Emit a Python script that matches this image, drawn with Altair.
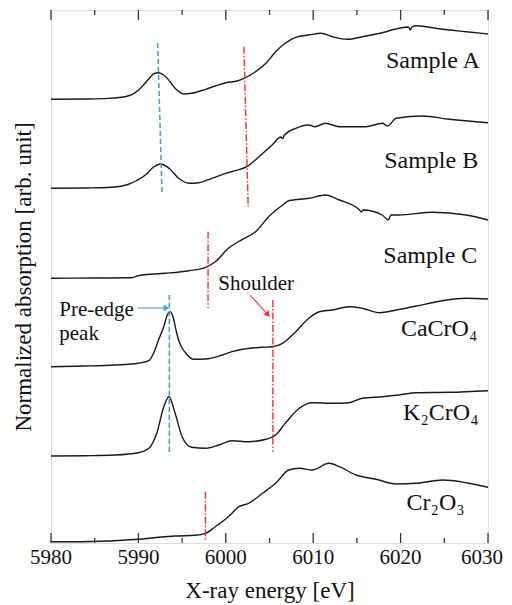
import altair as alt
import pandas as pd

# ---------------- data ----------------
sampleA_E = [5980.0, 5984.0, 5986.5, 5987.8, 5988.8, 5989.6, 5990.4, 5991.4, 5991.8, 5992.3, 5992.8,
             5993.3, 5994.2, 5995.2, 5996.1, 5997.7, 5998.8, 6000.0, 6001.3, 6002.1, 6003.4,
             6004.6, 6005.7, 6006.8, 6008.0, 6009.5, 6010.9, 6012.2, 6013.9, 6015.6, 6017.9,
             6019.8, 6020.9, 6021.1, 6021.3, 6021.8, 6024.8, 6027.5, 6030.0]
sampleA_v = [443.7, 444.0, 444.6, 445.5, 447.0, 450.2, 456.3, 466.3, 469.5, 470.3, 468.5,
             464.7, 454.7, 449.0, 449.7, 453.7, 457.0, 460.3, 462.0, 464.7, 471.3,
             479.7, 491.3, 499.7, 505.7, 508.0, 509.7, 506.3, 503.7, 506.3, 510.3,
             514.7, 516.0, 513.0, 516.0, 517.3, 513.7, 511.3, 509.0]

sampleB_E = [5980.0, 5984.0, 5986.5, 5987.8, 5988.8, 5989.8, 5990.8, 5991.7, 5992.6, 5993.5,
             5994.6, 5995.8, 5996.9, 5998.4, 6000.0, 6001.1, 6002.4, 6003.8, 6005.3, 6006.3,
             6006.5, 6006.7, 6008.0, 6009.5, 6010.2, 6011.4, 6013.0, 6016.0, 6017.9, 6018.5,
             6019.5, 6022.5, 6025.6, 6030.0]
sampleB_v = [354.7, 355.0, 355.5, 356.5, 358.5, 362.5, 368.0, 375.7, 379.0, 374.7,
             364.7, 359.7, 360.3, 364.7, 369.7, 372.3, 376.3, 386.3, 398.0, 406.0,
             404.5, 408.0, 414.7, 418.0, 416.3, 419.7, 416.3, 416.3, 419.7, 417.0,
             424.7, 427.0, 423.7, 420.3]

sampleC_E = [5980.0, 5985.0, 5989.2, 5990.2, 5993.1, 5995.8, 5997.7, 5998.8, 6000.3, 6001.9,
             6003.4, 6004.9, 6006.5, 6007.2, 6009.5, 6011.4, 6013.0, 6015.3, 6015.5, 6015.7,
             6017.9, 6018.6, 6018.9, 6019.8, 6023.7, 6027.5, 6030.0]
sampleC_v = [264.7, 265.0, 265.3, 267.8, 269.7, 272.3, 275.7, 281.3, 294.7, 303.7,
             311.3, 326.3, 338.0, 342.3, 344.7, 348.0, 343.0, 333.0, 331.0, 333.0,
             328.0, 323.0, 328.0, 328.0, 330.7, 328.0, 323.0]

cacro4_E = [5980.0, 5984.0, 5987.3, 5990.0, 5991.2, 5991.8, 5992.3, 5992.9, 5993.3, 5993.65,
            5994.0, 5994.3, 5994.6, 5995.0, 5995.5, 5996.3, 5997.7, 5999.6, 6000.7, 6001.9,
            6004.2, 6005.3, 6006.5, 6008.0, 6009.5, 6010.7, 6012.2, 6014.1, 6015.6, 6017.6,
            6019.5, 6021.8, 6024.8, 6027.5, 6030.0]
cacro4_v = [176.3, 177.0, 178.0, 179.7, 182.3, 191.0, 203.0, 216.3, 228.0, 231.3,
            225.0, 213.0, 203.0, 195.0, 189.0, 183.7, 184.0, 188.0, 191.3, 193.7,
            195.7, 196.3, 199.7, 211.3, 224.7, 231.3, 233.0, 236.3, 234.7, 230.3,
            233.0, 237.0, 242.3, 244.7, 244.0]

k2cro4_E = [5980.0, 5984.0, 5987.3, 5990.0, 5991.2, 5992.1, 5992.9, 5993.5, 5994.2, 5995.0,
            5996.1, 5997.7, 5999.2, 6000.7, 6002.6, 6004.6, 6005.7, 6006.8, 6008.4, 6009.9,
            6012.2, 6014.1, 6015.6, 6017.9, 6019.8, 6021.8, 6025.6, 6030.0]
k2cro4_v = [87.0, 87.3, 88.0, 90.3, 94.7, 109.7, 136.3, 146.3, 129.7, 106.3,
            95.7, 94.7, 98.0, 102.3, 101.3, 103.7, 108.0, 119.7, 134.7, 140.3,
            139.7, 140.3, 144.7, 146.3, 148.0, 150.3, 150.7, 152.3]

cr2o3_E = [5980.0, 5983.5, 5990.0, 5992.3, 5994.2, 5996.5, 5997.7, 5998.8, 6000.3, 6001.5,
           6002.6, 6004.2, 6005.7, 6007.2, 6008.4, 6009.9, 6011.8, 6013.0, 6014.9, 6017.2,
           6019.5, 6021.8, 6024.8, 6027.5, 6030.0]
cr2o3_v = [1.3, 1.3, 3.7, 5.7, 7.0, 7.7, 9.7, 16.3, 26.3, 36.3,
           39.7, 49.7, 59.7, 73.0, 74.7, 73.0, 79.7, 76.3, 68.0, 63.7,
           59.0, 59.7, 63.0, 60.3, 55.7]

# sample labels
label_text = ["Sample A", "Sample B", "Sample C", "CaCrO\u2084", "K\u2082CrO\u2084", "Cr\u2082O\u2083"]
label_E = [6023.7, 6023.5, 6023.4, 6024.4, 6024.6, 6024.0]
label_v = [475, 375, 280, 207, 123, 33]

# vertical guide lines (start/end energy and value)
blue_E1 = [5992.2, 5993.54]
blue_E2 = [5992.7, 5993.54]
blue_v1 = [500, 248]
blue_v2 = [351, 88]
red_E1 = [6002.07, 5997.97, 6005.39, 5997.67]
red_E2 = [6002.56, 5997.97, 6005.39, 5997.67]
red_v1 = [496.3, 311.3, 243, 51.3]
red_v2 = [336.3, 234.7, 91.3, 3]

# annotation texts
note_text = ["Pre-edge", "peak", "Shoulder"]
note_E = [5980.95, 5980.95, 5999.14]
note_v = [227, 203, 253]

# arrows
arrow_E1 = [5989.9, 6002.77]
arrow_E2 = [5993.1, 6004.75]
arrow_v1 = [235, 248]
arrow_v2 = [235, 229]
arrow_color = ["#4a9ad8", "#ff3030"]
head_angle = [90, 137]

major_ticks = [5980, 5990, 6000, 6010, 6020, 6030]
minor_ticks = [5985, 5995, 6005, 6015, 6025]
tick_labels = ["5980", "5990", "6000", "6010", "6020", "6030"]

# ---------------- build tables ----------------
series = [("Sample A", sampleA_E, sampleA_v), ("Sample B", sampleB_E, sampleB_v),
          ("Sample C", sampleC_E, sampleC_v), ("CaCrO4", cacro4_E, cacro4_v),
          ("K2CrO4", k2cro4_E, k2cro4_v), ("Cr2O3", cr2o3_E, cr2o3_v)]
rows = []
for name, es, vs in series:
    for e, v in zip(es, vs):
        rows.append({"sample": name, "E": e, "v": v})
spec_df = pd.DataFrame(rows)

FONT = "Liberation Serif"
xs = alt.Scale(domain=[5980, 6030], nice=False, zero=False)
ys = alt.Scale(domain=[0, 533], nice=False, zero=False)

ax_x = alt.Axis(labels=False, ticks=False, domain=False, grid=False,
                title="X-ray energy [eV]", titlePadding=36)
ax_y = alt.Axis(labels=False, ticks=False, domain=False, grid=False,
                title="Normalized absorption [arb. unit]", titlePadding=16)


def X(field):
    return alt.X(field, scale=xs, axis=ax_x)


def Y(field):
    return alt.Y(field, scale=ys, axis=ax_y)


lines = alt.Chart(spec_df).mark_line(color="#1a1a1a", strokeWidth=1.4, interpolate="monotone").encode(
    x=X("E:Q"), y=Y("v:Q"), detail="sample:N")

blue_df = pd.DataFrame({"E": blue_E1, "E2": blue_E2, "v": blue_v1, "v2": blue_v2})
blue = alt.Chart(blue_df).mark_rule(color="#4a9ad8", strokeWidth=1.6, strokeDash=[5, 3]).encode(
    x=X("E:Q"), x2="E2:Q", y=Y("v:Q"), y2="v2:Q")

red_df = pd.DataFrame({"E": red_E1, "E2": red_E2, "v": red_v1, "v2": red_v2})
red = alt.Chart(red_df).mark_rule(color="#ff2a2a", strokeWidth=1.4, strokeDash=[7, 2, 1.5, 2]).encode(
    x=X("E:Q"), x2="E2:Q", y=Y("v:Q"), y2="v2:Q")

major_df = pd.DataFrame({"E": major_ticks, "t": tick_labels})
minor_df = pd.DataFrame({"E": minor_ticks})
tick_layers = []
for df, ln in [(major_df, 10), (minor_df, 5)]:
    tick_layers.append(alt.Chart(df).mark_rule(color="#333", strokeWidth=1.3).encode(
        x=X("E:Q"), y=alt.value(533), y2=alt.value(533 - ln)))
    tick_layers.append(alt.Chart(df).mark_rule(color="#333", strokeWidth=1.3).encode(
        x=X("E:Q"), y=alt.value(0), y2=alt.value(ln)))

# tick labels drawn as text under the plot frame (last one nudged to stay inside the page)
tick_text = alt.Chart(major_df).transform_filter(alt.datum.E < 6030).mark_text(
    font=FONT, fontSize=21, color="#111", align="center", baseline="top", dy=4).encode(
    x=X("E:Q"), y=alt.value(533), text="t:N")
tick_text_last = alt.Chart(major_df).transform_filter(alt.datum.E >= 6030).mark_text(
    font=FONT, fontSize=21, color="#111", align="center", baseline="top", dy=4, dx=-6).encode(
    x=X("E:Q"), y=alt.value(533), text="t:N")

lab_df = pd.DataFrame({"t": label_text, "E": label_E, "v": label_v})
labels = alt.Chart(lab_df).mark_text(font=FONT, fontSize=24, color="#111", align="center",
                                     baseline="alphabetic").encode(
    x=X("E:Q"), y=Y("v:Q"), text="t:N")

note_df = pd.DataFrame({"t": note_text, "E": note_E, "v": note_v})
notes = alt.Chart(note_df).mark_text(font=FONT, fontSize=21, color="#111", align="left",
                                     baseline="alphabetic").encode(
    x=X("E:Q"), y=Y("v:Q"), text="t:N")

arrow_df = pd.DataFrame({"E": arrow_E1, "E2": arrow_E2, "v": arrow_v1, "v2": arrow_v2,
                         "c": arrow_color, "a": head_angle})
arrow_lines = alt.Chart(arrow_df).mark_rule(strokeWidth=1.1).encode(
    x=X("E:Q"), x2="E2:Q", y=Y("v:Q"), y2="v2:Q",
    color=alt.Color("c:N", scale=None))
arrow_heads = alt.Chart(arrow_df).mark_point(shape="triangle", filled=True, size=45, opacity=1).encode(
    x=X("E2:Q"), y=Y("v2:Q"),
    color=alt.Color("c:N", scale=None), angle=alt.Angle("a:Q", scale=None))

chart = alt.layer(lines, blue, red, *tick_layers, tick_text, tick_text_last, labels, notes,
                  arrow_lines, arrow_heads).properties(
    width=437, height=533,
    padding={"left": 43, "top": 2, "right": 16, "bottom": 60},
    autosize=alt.AutoSizeParams(type="none"),
).configure_view(stroke="#333", strokeWidth=1.5, clip=False).configure(background="white").configure_axis(
    titleFont=FONT, titleFontSize=23, titleFontWeight="normal", titleColor="#111",
)

chart.save("out.html", embed_options={"renderer": "svg", "actions": False})
